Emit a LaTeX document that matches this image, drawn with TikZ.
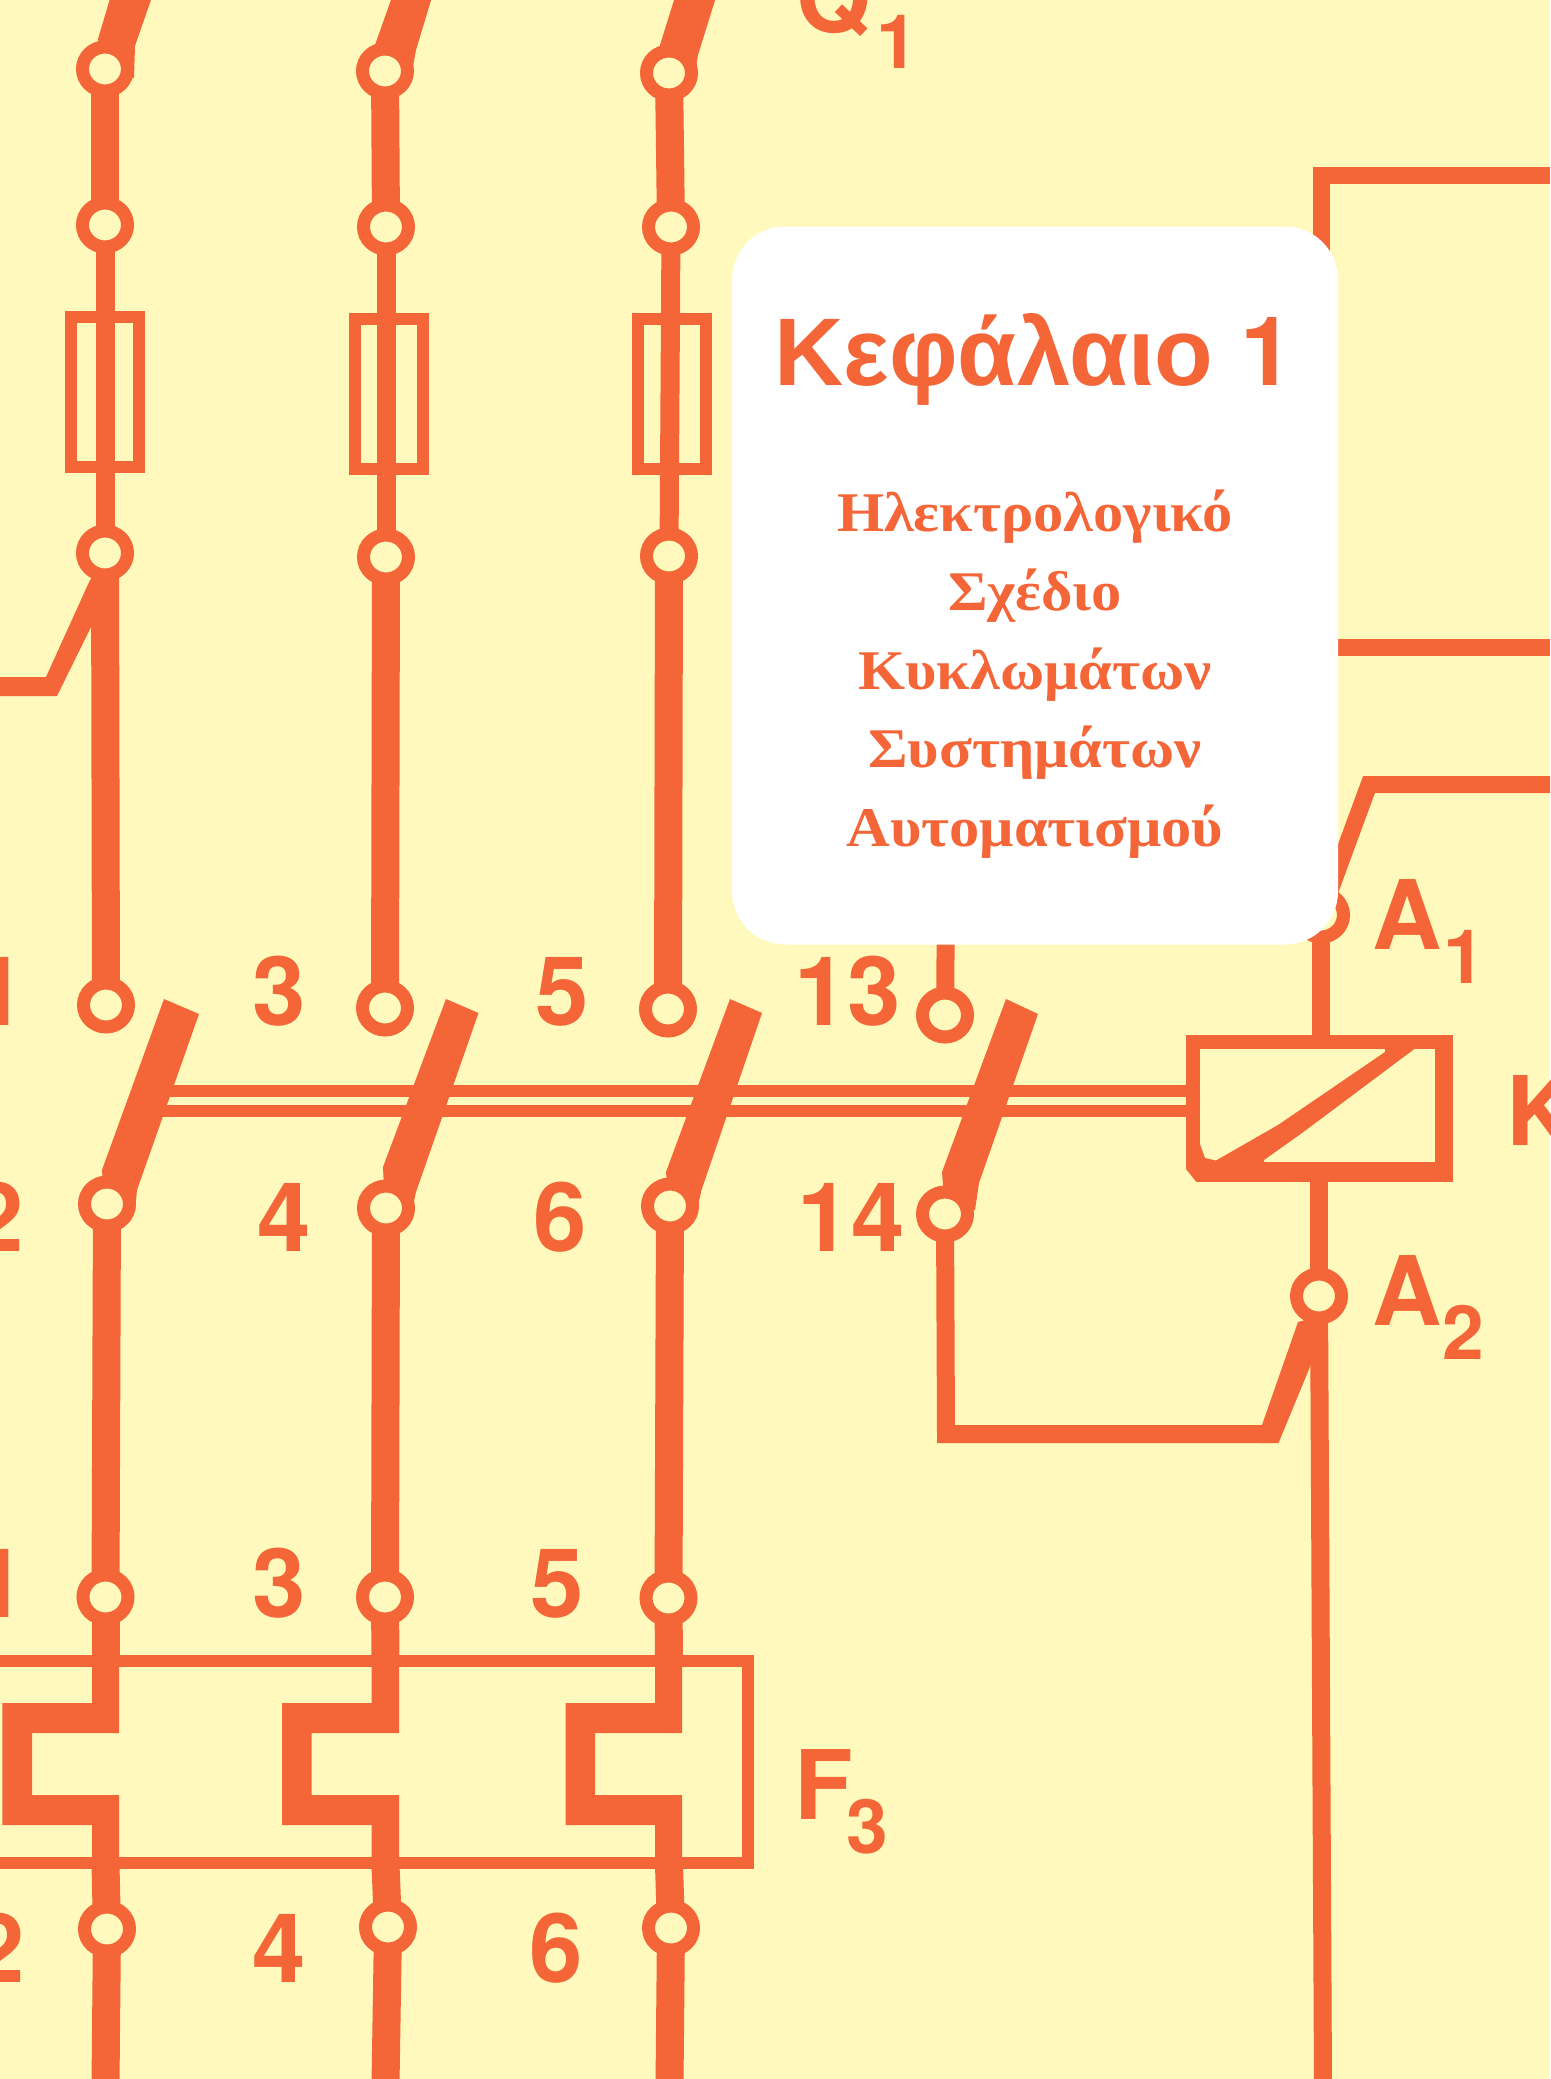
\documentclass[tikz,border=0pt]{standalone}
\usepackage{fontspec}
\setmainfont{TeX Gyre Heros}
\newfontfamily\grsans{Liberation Sans}
\newfontfamily\grserif[FakeStretch=1.08]{Liberation Serif}
\usetikzlibrary{shapes.geometric}
\definecolor{paper}{HTML}{FFF9BD}
\definecolor{ink}{HTML}{F46537}
\tikzset{
  contact/.style={ellipse,draw=ink,fill=paper,line width=13pt,minimum width=45pt,minimum height=44pt,inner sep=0pt,outer sep=0pt},
  heavy/.style={draw=ink,line width=28pt},
  medium/.style={draw=ink,line width=19pt},
  lightw/.style={draw=ink,line width=18pt,line join=miter},
  rod/.style={draw=ink,line width=12pt},
  fuse/.style={rectangle,draw=ink,line width=12pt,minimum width=68pt,minimum height=150pt,inner sep=0pt,outer sep=0pt},
  solid ink/.style={fill=ink,draw=none},
  lab/.style={text=ink,inner sep=0pt,outer sep=0pt,anchor=base,font=\bfseries\fontsize{96}{96}\selectfont},
  labw/.style={lab,anchor=base west},
  sub/.style={text=ink,inner sep=0pt,outer sep=0pt,anchor=base west,font=\bfseries\fontsize{75}{75}\selectfont},
  sublab/.style={text=ink,inner sep=0pt,outer sep=0pt,anchor=base,font=\grserif\bfseries\fontsize{56}{56}\selectfont},
}
\begin{document}
\begin{tikzpicture}[x=1pt,y=-1pt]
\useasboundingbox (0,0) rectangle (1550,2079);
\clip (0,0) rectangle (1550,2079);
\fill[paper] (0,0) rectangle (1550,2079);

% blades of the upper switch Q1
\fill[solid ink] (110.5,-3)--(152,-3)--(135,46)--(134,78)--(105,80)--(98,39)--cycle;
\fill[solid ink] (392,-3)--(432,-3)--(416,50)--(412,72)--(385,80)--(375,45)--cycle;
\fill[solid ink] (675,-3)--(716,-3)--(698,55)--(695,75)--(669,80)--(660,45)--cycle;

% blades of the contactor
\fill[solid ink] (164,999)--(199,1014)--(137,1190)--(135,1210)--(105,1210)--(102,1170)--cycle;
\fill[solid ink] (446,999)--(478.5,1013)--(416,1192)--(412,1210)--(385,1210)--(383,1167)--cycle;
\fill[solid ink] (730,999)--(762,1013)--(701.5,1190)--(697,1210)--(670,1210)--(666,1172)--cycle;
\fill[solid ink] (1006,999)--(1038,1014)--(979,1183)--(975,1210)--(945,1210)--(942,1172)--cycle;

% overload element
\fill[solid ink] (92,1660)--(92,1703)--(2.4,1703)--(2.4,1825)--(92,1825)--(92,1865)--(119,1865)--(119,1795)--(32,1795)--(32,1733)--(119,1733)--(119,1660)--cycle;
\fill[solid ink] (371.5,1660)--(371.5,1703)--(282,1703)--(282,1825)--(371.5,1825)--(371.5,1865)--(399,1865)--(399,1795)--(311.5,1795)--(311.5,1733)--(399,1733)--(399,1660)--cycle;
\fill[solid ink] (655,1660)--(655,1703)--(565.5,1703)--(565.5,1825)--(655,1825)--(655,1865)--(682,1865)--(682,1795)--(595,1795)--(595,1733)--(682,1733)--(682,1660)--cycle;

% branch lines merging into contacts
\fill[solid ink] (-5,677)--(46,677)--(90,580)--(106,570)--(106,627)--(91,627)--(57,696)--(-5,696)--cycle;
\fill[solid ink] (1298,1322)--(1262,1425)--(1262,1443)--(1278.5,1443)--(1314,1357)--(1323,1357)--(1323,1315)--cycle;

% contacts, column 1
\node[contact] (c1a) at (105,69) {};
\node[contact] (c1b) at (105,225) {};
\node[contact] (c1c) at (105,553) {};
\node[contact] (c1d) at (106,1005) {};
\node[contact] (c1e) at (107,1204) {};
\node[contact] (c1f) at (105.5,1597) {};
\node[contact] (c1g) at (107,1929) {};
% column 2
\node[contact] (c2a) at (385,71) {};
\node[contact] (c2b) at (386,227) {};
\node[contact] (c2c) at (386,557) {};
\node[contact] (c2d) at (385,1008) {};
\node[contact] (c2e) at (386,1208) {};
\node[contact] (c2f) at (385,1597) {};
\node[contact] (c2g) at (388,1927) {};
% column 3
\node[contact] (c3a) at (669,73) {};
\node[contact] (c3b) at (671,227) {};
\node[contact] (c3c) at (669,556) {};
\node[contact] (c3d) at (668,1009) {};
\node[contact] (c3e) at (670,1206) {};
\node[contact] (c3f) at (668.5,1598) {};
\node[contact] (c3g) at (671,1928) {};
% column 4 and coil terminals
\node[contact] (c4d) at (945,1015) {};
\node[contact] (c4e) at (945,1214) {};
\node[contact] (a1) at (1321,915) {};
\node[contact] (a2) at (1319,1296) {};

% fuses
\node[fuse] (f1) at (105,392) {};
\node[fuse] (f2) at (388.5,393.5) {};
\node[fuse] (f3) at (672,394) {};

% coil
\node[fill=ink,rectangle,inner sep=0pt,outer sep=0pt,minimum width=267pt,minimum height=147pt] (coil) at (1319.5,1108.5) {};
\fill[paper] (1200,1049) rectangle (1435,1162);
\fill[paper] (1185,1183)--(1185,1168)--(1197,1183)--cycle;
\fill[solid ink] (1199.5,1143)--(1205,1158)--(1216,1160.5)--(1278,1125)--(1385,1052)--(1385,1047)--(1417,1047)--(1302,1133)--(1264,1160)--(1264,1165)--(1199.5,1165)--cycle;

% overload box
\node[rectangle,draw=ink,line width=12pt,inner sep=0pt,outer sep=0pt,minimum width=797pt,minimum height=202pt] (ol) at (349,1762) {};

% mains wiring
\draw[heavy] (c1a)--(c1b);
\draw[medium] (c1b)--(c1c);
\draw[heavy] (c1c)--(c1d);
\draw[heavy] (c1e)--(c1f);
\coordinate (o1t) at (105.5,1665);
\coordinate (o1b) at (105.5,1865);
\draw[heavy] (c1f)--(o1t);
\draw[heavy] (o1b)--(c1g);
\coordinate (e1) at (105.5,2085);
\draw[heavy] (c1g)--(e1);

\draw[heavy] (c2a)--(c2b);
\draw[medium] (c2b)--(c2c);
\draw[heavy] (c2c)--(c2d);
\draw[heavy] (c2e)--(c2f);
\coordinate (o2t) at (385.5,1665);
\coordinate (o2b) at (385.5,1865);
\draw[heavy] (c2f)--(o2t);
\draw[heavy] (o2b)--(c2g);
\coordinate (e2) at (385.5,2085);
\draw[heavy] (c2g)--(e2);

\draw[heavy] (c3a)--(c3b);
\draw[medium] (c3b)--(c3c);
\draw[heavy] (c3c)--(c3d);
\draw[heavy] (c3e)--(c3f);
\coordinate (o3t) at (669,1665);
\coordinate (o3b) at (669,1865);
\draw[heavy] (c3f)--(o3t);
\draw[heavy] (o3b)--(c3g);
\coordinate (e3) at (669.5,2085);
\draw[heavy] (c3g)--(e3);

% mechanical link
\coordinate (r1) at (150,1091);
\coordinate (r2) at (150,1110.5);
\draw[rod] (r1)--(r1-|coil.west);
\draw[rod] (r2)--(r2-|coil.west);

% control wiring
\coordinate (h1) at (1550,175.5);
\coordinate (h1c) at (1321,175.5);
\coordinate (h1e) at (1321,320);
\draw[draw=ink,line width=17pt] (h1)--(h1c)--(h1e);
\coordinate (h2s) at (1300,647.5);
\coordinate (h2e) at (1550,647.5);
\draw[draw=ink,line width=17pt] (h2s)--(h2e);
\coordinate (h3) at (1550,784.5);
\coordinate (h3c) at (1369,784.5);
\draw[draw=ink,line width=17pt] (h3)--(h3c)--(a1);
\draw[lightw] (a1)--(coil.north-|a1);
\draw[lightw] (coil.south-|a2)--(a2);
\coordinate (e4) at (1323,2085);
\draw[lightw] (a2)--(e4);
\coordinate (t4) at (946,900);
\draw[lightw] (t4)--(c4d);
\coordinate (k1) at (946,1434);
\coordinate (k2) at (1270,1434);
\draw[lightw] (c4e)--(k1)--(k2);

% terminal labels
\node[lab] (n1a) at (-1,1025) {1};
\node[lab] (n2a) at (-3,1251) {2};
\node[lab] (n3a) at (279.5,1025) {3};
\node[lab] (n5a) at (562,1025) {5};
\node[lab] (n4a) at (284,1251) {4};
\node[lab] (n6a) at (560.5,1251) {6};
\node[lab] (n13) at (847.5,1025) {13};
\node[lab] (n14) at (851,1251) {14};
\node[lab] (n1b) at (-1,1617) {1};
\node[lab] (n3b) at (279.5,1617) {3};
\node[lab] (n5b) at (557,1617) {5};
\node[lab] (n2b) at (-2,1982) {2};
\node[lab] (n4b) at (279,1982) {4};
\node[lab] (n6b) at (556,1982) {6};

\node[labw] (q) at (796,33) {Q};
\node[sub] (qs) at (876,69) {1};
\node[labw] (aa) at (1372,949) {A};
\node[sub] (as) at (1443,983) {1};
\node[labw] (ab) at (1372,1325) {A};
\node[sub] (bs) at (1442,1359) {2};
\node[labw] (ff) at (794,1819) {F};
\node[sub] (fs) at (846,1853) {3};
\node[labw] (kk) at (1506,1145) {K};

% title card
\node[rectangle,rounded corners=53pt,fill=white,inner sep=0pt,outer sep=0pt,minimum width=606pt,minimum height=718pt] (card) at (1035,585.5) {};
\node[lab] (title) at (1034,385) {{\grsans Κεφάλαιο} 1};
\node[sublab] (s1) at (1035,531) {Ηλεκτρολογικό};
\node[sublab] (s2) at (1035,610) {Σχέδιο};
\node[sublab] (s3) at (1035,689) {Κυκλωμάτων};
\node[sublab] (s4) at (1035,767) {Συστημάτων};
\node[sublab] (s5) at (1035,846) {Αυτοματισμού};
\end{tikzpicture}
\end{document}
